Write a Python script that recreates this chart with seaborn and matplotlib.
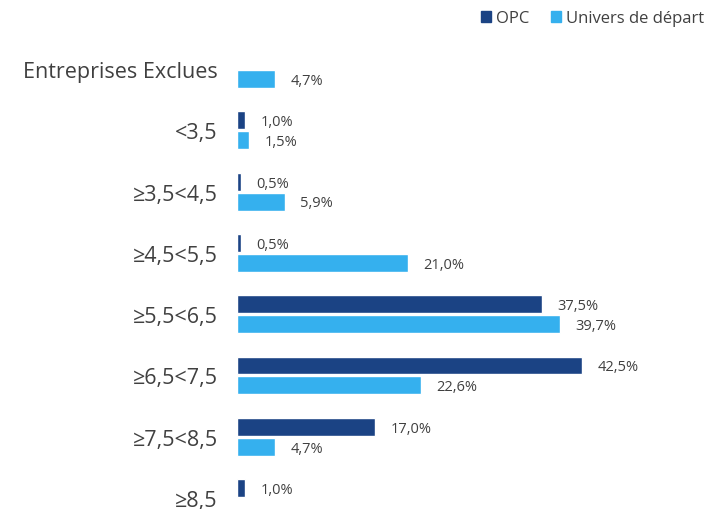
import pandas as pd
import numpy as np
import matplotlib.pyplot as plt
import seaborn as sns
from matplotlib.patches import Patch

# data
categories = ["Entreprises Exclues", "<3,5", "≥3,5<4,5", "≥4,5<5,5",
              "≥5,5<6,5", "≥6,5<7,5", "≥7,5<8,5", "≥8,5"]
opc = [np.nan, 1.0, 0.5, 0.5, 37.5, 42.5, 17.0, 1.0]
univers = [4.7, 1.5, 5.9, 21.0, 39.7, 22.6, 4.7, np.nan]
series = ["OPC", "Univers de départ"]

colors = {"OPC": "#1B4384", "Univers de départ": "#35B0EE"}
text_col = "#404040"

df = pd.DataFrame({
    "cat": categories * 2,
    "serie": [series[0]] * len(categories) + [series[1]] * len(categories),
    "val": opc + univers,
})

sns.set_style("white")
plt.rcParams['font.family'] = ['Open Sans', 'DejaVu Sans']

fig = plt.figure(figsize=(7.14, 5.1), dpi=100)
ax = fig.add_axes([237 / 714, 0, 477 / 714, 1])

sns.barplot(data=df, y="cat", x="val", hue="serie", order=categories,
            hue_order=series, palette=colors, orient="h", width=0.65,
            gap=0.1, ax=ax, legend=False, saturation=1)

# value labels, taken from the drawn bars
for patch in ax.patches:
    v = patch.get_width()
    if not np.isfinite(v) or v <= 0:
        continue
    y = patch.get_y() + patch.get_height() / 2
    ax.annotate(f"{v:.1f}%".replace(".", ","), (v, y),
                xytext=(11, -1), textcoords="offset points",
                ha="left", va="center", fontsize=10.5, color=text_col)

ax.set_xlim(0, 58.7)
ax.set_ylim(7.178, -1.142)
ax.set_xlabel("")
ax.set_ylabel("")
ax.set_xticks([])
ax.tick_params(axis="y", length=0, pad=14, labelsize=15.5, labelcolor=text_col)
sns.despine(ax=ax, left=True, bottom=True)

handles = [Patch(color=colors[s], label=s) for s in series]
fig.legend(handles=handles, loc="center right", bbox_to_anchor=(0.995, 0.962),
           ncol=2, frameon=False, fontsize=12, handlelength=0.6,
           handleheight=0.6, handletextpad=0.3, columnspacing=1.3,
           labelcolor=text_col, borderaxespad=0)

fig.savefig("out.png", dpi=100)
